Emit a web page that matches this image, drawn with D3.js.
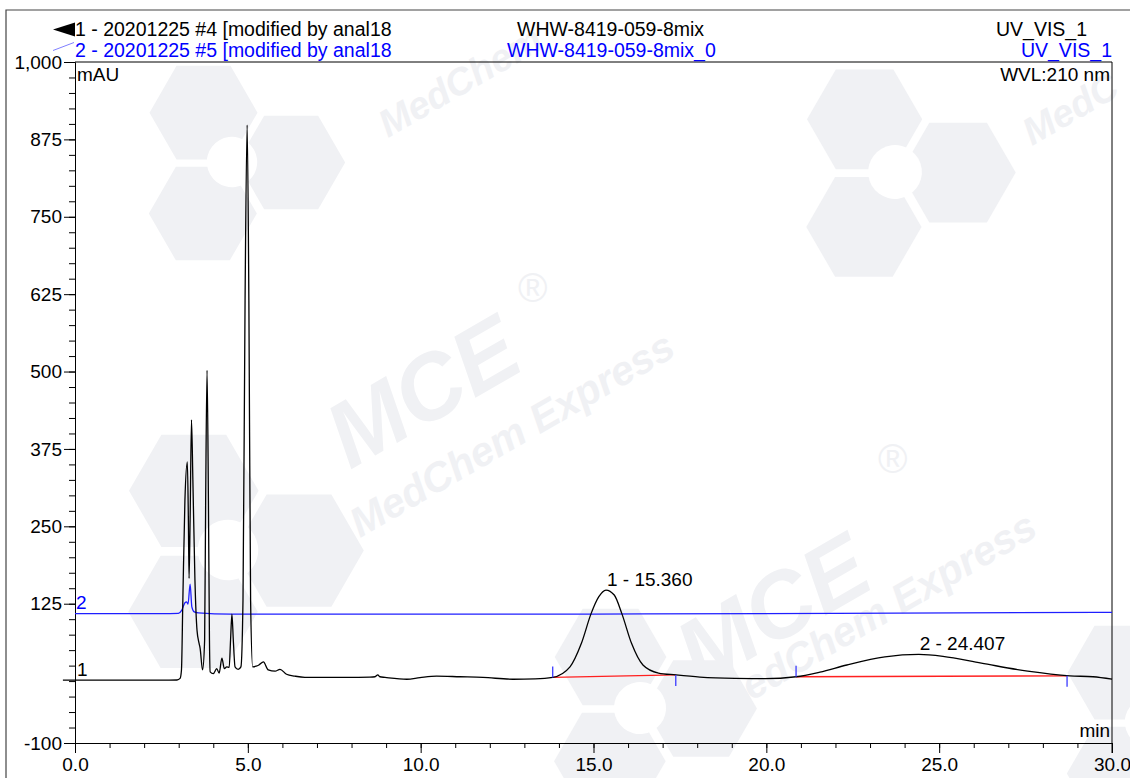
<!DOCTYPE html>
<html>
<head>
<meta charset="utf-8">
<script src="https://cdn.jsdelivr.net/npm/d3@7"></script>
<style>
  body { margin: 0; background: #fff; }
  svg { display: block; }
  text { font-family: "Liberation Sans", Arial, sans-serif; }
</style>
</head>
<body>
<svg id="c" width="1130" height="778"></svg>
<script>
// ---------------- data ----------------
// Trace 1 (black): retention time (min) and signal (mAU)
const trace1Time = [-0.35, 0, 1, 2, 2.95, 3.04, 3.08, 3.12, 3.18, 3.25, 3.28, 3.30, 3.33, 3.37, 3.41, 3.47, 3.53, 3.59, 3.62, 3.69,
  3.75, 3.78, 3.82, 3.86, 3.89, 3.91, 4.00, 4.10, 4.17, 4.25, 4.32, 4.39, 4.46, 4.50, 4.54, 4.58, 4.63, 4.72, 4.80, 4.86,
  4.92, 4.98, 5.03, 5.08, 5.14, 5.24, 5.32, 5.45, 5.59, 5.79, 5.93, 6.12, 6.36, 6.65, 7.86, 8.53, 8.68, 8.76, 8.82, 8.97,
  9.60, 9.98, 10.46, 11.14, 11.80, 12.67, 13.31, 13.82, 14.32, 14.65, 14.93, 15.15, 15.36, 15.60, 15.82, 16.10, 16.43, 16.88, 17.38, 18.08,
  19.09, 19.96, 20.86, 21.55, 22.33, 23.43, 24.41, 25.11, 26.22, 27.56, 28.78, 29.45, 30.0];
const trace1Value = [1.5, 1.5, 1.5, 1.5, 1.8, 4.4, 18, 131, 292, 354, 260, 166, 260, 422, 325, 163, 82, 61, 53, 18,
  66, 292, 502, 292, 66, 15, 12, 20, 13, 37, 20, 23, 22, 66, 108, 66, 23, 19, 23, 131,
  615, 898, 615, 131, 23, 24, 26, 31, 18, 16, 19, 11, 8, 6, 6, 6.5, 7, 10, 7, 6,
  3, 5.6, 8, 7, 6, 3, 3.5, 6, 23, 61, 109, 136, 147, 139, 109, 61, 26, 13, 10, 6.5,
  4.4, 4, 7, 14.5, 26, 39, 43, 40, 29, 16, 8.5, 7, 3];

// Trace 2 (blue), drawn with its display offset
const trace2Time = [0, 2.5, 2.99, 3.09, 3.18, 3.23, 3.27, 3.33, 3.38, 3.45, 3.57, 4.5, 10, 15, 22, 30];
const trace2Value = [109, 109, 109.5, 114.7, 126.5, 128, 124.4, 156.7, 120, 111.8, 110.3, 108.2, 108.2, 108.3, 109.5, 111];

// Integrated peaks
const peakNames = ["1 - 15.360", "2 - 24.407"];
const peakTime = [15.360, 24.407];
const peakApex = [147, 43];
const baseStartTime = [13.82, 20.86];
const baseStartValue = [6, 7];
const baseEndTime = [17.38, 28.70];
const baseEndValue = [10, 8.5];

// Axes
const yTickValues = [-100, 125, 250, 375, 500, 625, 750, 875, 1000];
const yMinorTicks = d3.range(-100, 1001, 25);
const xTickValues = [0, 5, 10, 15, 20, 25, 30];
const xMinorTicks = d3.range(0, 31, 1);

// Header text
const headerLeft = ["1 - 20201225 #4 [modified by anal18", "2 - 20201225 #5 [modified by anal18"];
const headerMid = ["WHW-8419-059-8mix", "WHW-8419-059-8mix_0"];
const headerRight = ["UV_VIS_1", "UV_VIS_1"];
const yUnit = "mAU", xUnit = "min", wavelength = "WVL:210 nm";

// ---------------- drawing ----------------
const svg = d3.select("#c");
const FS = 19, HFS = 19.5;
const x = d3.scaleLinear().domain([0, 30]).range([75, 1112]);
const y = d3.scaleLinear().domain([-100, 1000]).range([743, 62]);

// watermark layer
const wm = svg.append("g").attr("fill", "#f0f1f4");
function hexPts(hx, hy, R) {
  return d3.range(6).map(i => { const a = Math.PI / 3 * i + Math.PI / 6; return [hx + R * Math.cos(a), hy + R * Math.sin(a)]; });
}
function logo(cx, cy, r) {
  const g = wm.append("g").attr("transform", `translate(${cx},${cy}) rotate(-30)`);
  [[0, -r * 0.95], [-r * 0.85, r * 0.5], [r * 0.85, r * 0.5]].forEach(([hx, hy]) =>
    g.append("path").attr("d", d3.line()(hexPts(hx, hy, r * 0.9)) + "Z"));
  g.append("circle").attr("r", r * 0.42).attr("fill", "#fff");
}
function wmText(tx, ty, str, size) {
  wm.append("text").attr("transform", `translate(${tx},${ty}) rotate(-30)`)
    .attr("font-size", size).attr("font-weight", "bold").attr("font-style", "italic").text(str);
}
logo(232, 162, 60);
logo(895, 172, 64);
logo(228, 550, 72);
logo(640, 708, 62);
logo(1150, 722, 60);
wmText(350, 470, "MCE", 92);
wmText(360, 538, "MedChem Express", 41);
wmText(700, 688, "MCE", 92);
wmText(722, 718, "MedChem Express", 41);
wmText(388, 138, "MedChem", 38);
wmText(1032, 146, "MedC", 38);
wm.append("text").attr("x", 518).attr("y", 302).attr("font-size", 40).text("®");
wm.append("text").attr("x", 878).attr("y", 473).attr("font-size", 40).text("®");

// outer frame
svg.append("path").attr("d", "M6,778V10H1130").attr("fill", "none").attr("stroke", "#444").attr("stroke-width", 1.2);

// plot frame (top and right)
svg.append("path").attr("d", `M${x(0)},${y(1000)}H${x(30)}V${y(-100) + 10}`)
  .attr("fill", "none").attr("stroke", "#000").attr("stroke-width", 1);

// y axis
const yMinor = svg.append("g").attr("transform", `translate(${x(0)},0)`)
  .call(d3.axisLeft(y).tickValues(yMinorTicks).tickSize(6).tickSizeOuter(0).tickFormat(""));
const yAx = svg.append("g").attr("transform", `translate(${x(0)},0)`)
  .call(d3.axisLeft(y).tickValues(yTickValues).tickSize(11).tickSizeOuter(0).tickPadding(2)
    .tickFormat(d => d < 0 ? "-" + Math.abs(d) : d3.format(",")(d)));
// x axis
const xMinor = svg.append("g").attr("transform", `translate(0,${y(-100)})`)
  .call(d3.axisBottom(x).tickValues(xMinorTicks).tickSize(5).tickSizeOuter(0).tickFormat(""));
const xAx = svg.append("g").attr("transform", `translate(0,${y(-100)})`)
  .call(d3.axisBottom(x).tickValues(xTickValues).tickSize(10).tickSizeOuter(0).tickPadding(5)
    .tickFormat(d3.format(".1f")));
[yMinor, yAx, xMinor, xAx].forEach(g => {
  g.selectAll("path,line").attr("stroke", "#000").attr("stroke-width", 1);
  g.selectAll("text").attr("font-size", FS).attr("fill", "#000").attr("font-family", "Liberation Sans, Arial, sans-serif");
});

// curves
const line = d3.line().x(d => x(d[0])).y(d => y(d[1])).curve(d3.curveMonotoneX);
const t2 = trace2Time.map((t, i) => [t, trace2Value[i]]);
const t1 = trace1Time.map((t, i) => [t, trace1Value[i]]);

svg.append("path").attr("d", line(t2)).attr("fill", "none").attr("stroke", "#1f1fff").attr("stroke-width", 1.3);

// integration baselines (red)
peakNames.forEach((n, i) => {
  svg.append("line")
    .attr("x1", x(baseStartTime[i])).attr("y1", y(baseStartValue[i]))
    .attr("x2", x(baseEndTime[i])).attr("y2", y(baseEndValue[i]))
    .attr("stroke", "#ff2020").attr("stroke-width", 1.3);
});

svg.append("path").attr("d", line(t1)).attr("fill", "none").attr("stroke", "#000").attr("stroke-width", 1.3);

// peak delimiter ticks and labels
peakNames.forEach((n, i) => {
  svg.append("line").attr("x1", x(baseStartTime[i])).attr("x2", x(baseStartTime[i]))
    .attr("y1", y(baseStartValue[i])).attr("y2", y(baseStartValue[i]) - 11)
    .attr("stroke", "#3a3aff").attr("stroke-width", 1.3);
  svg.append("line").attr("x1", x(baseEndTime[i])).attr("x2", x(baseEndTime[i]))
    .attr("y1", y(baseEndValue[i])).attr("y2", y(baseEndValue[i]) + 11)
    .attr("stroke", "#3a3aff").attr("stroke-width", 1.3);
  svg.append("text").attr("x", x(peakTime[i]) + 1).attr("y", y(peakApex[i]) - 4)
    .attr("font-size", FS).attr("fill", "#000").text(n);
});

// trace labels
svg.append("text").attr("x", x(0) + 2).attr("y", y(trace1Value[1]) - 4).attr("font-size", FS).attr("fill", "#000").text("1");
svg.append("text").attr("x", x(0) + 1).attr("y", y(trace2Value[0]) - 5).attr("font-size", FS).attr("fill", "#0000ff").text("2");

// unit labels
svg.append("text").attr("x", x(0) + 2).attr("y", 81).attr("font-size", FS).text(yUnit);
svg.append("text").attr("x", x(30) - 2).attr("y", 81).attr("font-size", FS).attr("text-anchor", "end").text(wavelength);
svg.append("text").attr("x", x(30) - 2).attr("y", 737).attr("font-size", FS).attr("text-anchor", "end").text(xUnit);

// header
svg.append("path").attr("d", "M53,29.5L75,22.5L75,36.5Z").attr("fill", "#000");
svg.append("line").attr("x1", 53).attr("y1", 50.5).attr("x2", 74).attr("y2", 42.5).attr("stroke", "#8080ff").attr("stroke-width", 1);
const hdrColors = ["#000", "#0000ff"];
const hdrY = [36, 56.5];
headerLeft.forEach((s, i) => svg.append("text").attr("x", 75).attr("y", hdrY[i]).attr("font-size", HFS).attr("fill", hdrColors[i]).text(s));
svg.append("text").attr("x", 517).attr("y", hdrY[0]).attr("font-size", HFS).attr("fill", hdrColors[0]).text(headerMid[0]);
svg.append("text").attr("x", 507).attr("y", hdrY[1]).attr("font-size", HFS).attr("fill", hdrColors[1]).text(headerMid[1]);
svg.append("text").attr("x", 996).attr("y", hdrY[0]).attr("font-size", HFS).attr("fill", hdrColors[0]).text(headerRight[0]);
svg.append("text").attr("x", 1112).attr("y", hdrY[1]).attr("font-size", HFS).attr("text-anchor", "end").attr("fill", hdrColors[1]).text(headerRight[1]);
</script>
</body>
</html>
